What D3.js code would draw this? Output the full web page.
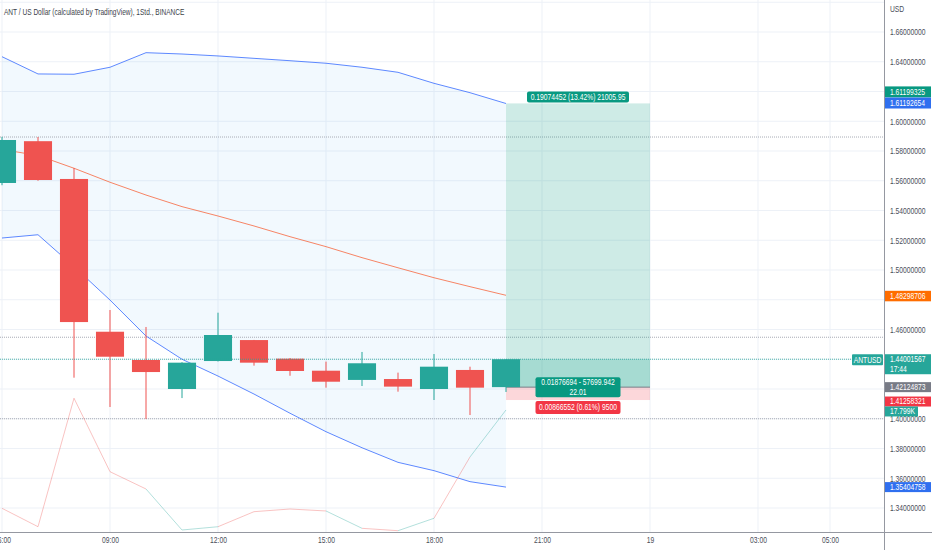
<!DOCTYPE html>
<html>
<head>
<meta charset="utf-8">
<script src="https://cdn.jsdelivr.net/npm/d3@7"></script>
<style>
  body { margin: 0; background: #fff; }
  svg { display: block; font-family: "Liberation Sans", Arial, sans-serif; }
</style>
</head>
<body>
<div id="chart"></div>
<script>
// hourly candles, ANT / USD
const times = ["2021-03-18 06:00", "2021-03-18 07:00", "2021-03-18 08:00", "2021-03-18 09:00",
  "2021-03-18 10:00", "2021-03-18 11:00", "2021-03-18 12:00", "2021-03-18 13:00",
  "2021-03-18 14:00", "2021-03-18 15:00", "2021-03-18 16:00", "2021-03-18 17:00",
  "2021-03-18 18:00", "2021-03-18 19:00", "2021-03-18 20:00"];
const opens  = [1.5585, 1.5866, 1.5612, 1.4585, 1.4395, 1.4200, 1.4388, 1.4529, 1.4404, 1.4323, 1.4261, 1.4267, 1.4200, 1.4328, 1.42124873];
const highs  = [1.5895, 1.5894, 1.5686, 1.4731, 1.4617, 1.4380, 1.4713, 1.4530, 1.4408, 1.4384, 1.4449, 1.4310, 1.4435, 1.4350, 1.44001567];
const lows   = [1.5570, 1.5600, 1.4276, 1.4079, 1.3998, 1.4139, 1.4385, 1.4357, 1.4289, 1.4209, 1.4220, 1.4182, 1.4126, 1.4025, 1.4180];
const closes = [1.5874, 1.5605, 1.4650, 1.4417, 1.4314, 1.4377, 1.4563, 1.4377, 1.4321, 1.4249, 1.4373, 1.4216, 1.4350, 1.4209, 1.44001567];

// bands
const upperBand  = [1.6434, 1.6318, 1.6316, 1.6363, 1.6461, 1.6452, 1.6439, 1.6423, 1.6407, 1.6390, 1.6363, 1.6329, 1.6255, 1.6192, 1.61192654];
const middleBand = [1.5810, 1.5770, 1.5684, 1.5590, 1.5504, 1.5426, 1.5363, 1.5296, 1.5224, 1.5157, 1.5083, 1.5015, 1.4948, 1.4888, 1.48298706];
const lowerBand  = [1.5215, 1.5237, 1.5023, 1.4798, 1.4556, 1.4400, 1.4287, 1.4166, 1.4037, 1.3913, 1.3805, 1.3707, 1.3651, 1.3577, 1.35404758];

// volume in thousands
const volumes = [3.80, 1.18, 19.47, 9.01, 6.55, 0.71, 1.18, 3.32, 3.70, 3.42, 0.95, 0.61, 2.38, 11.11, 17.799];

const priceTicks = [1.34, 1.36, 1.38, 1.40, 1.42, 1.44, 1.46, 1.48, 1.50, 1.52, 1.54, 1.56, 1.58, 1.60, 1.62, 1.64, 1.66];
const timeTicks = ["2021-03-18 06:00", "2021-03-18 09:00", "2021-03-18 12:00", "2021-03-18 15:00",
  "2021-03-18 18:00", "2021-03-18 21:00", "2021-03-19 00:00", "2021-03-19 03:00", "2021-03-19 05:00"];
const timeTickLabels = ["06:00", "09:00", "12:00", "15:00", "18:00", "21:00", "19", "03:00", "05:00"];

// drawn horizontal lines
const hLines = [1.5894, 1.4548, 1.40];

// long position tool
const posStart = "2021-03-18 20:00";
const posEnd = "2021-03-19 00:00";
const entryPrice = 1.42124873;
const targetPrice = 1.61199325;
const stopPrice = 1.41258321;
const targetText = "0.19074452 (13.42%) 21005.95";
const openText = ["0.01876694 - 57699.942", "22.01"];
const stopText = "0.00866552 (0.61%) 9500";

const titleText = "ANT / US Dollar (calculated by TradingView), 1Std., BINANCE";
const symbol = "ANTUSD";
const countdown = "17:44";

const W = 932, H = 550;
const plotW = 884, plotH = 532;
const up = "#26a69a", down = "#ef5350";
const sx = 0.75; // narrow glyphs

const parse = d3.timeParse("%Y-%m-%d %H:%M");
const bars = times.map((t, i) => ({
  t: parse(t), o: opens[i], h: highs[i], l: lows[i], c: closes[i],
  ub: upperBand[i], mb: middleBand[i], lb: lowerBand[i], v: volumes[i]
}));

const x = d3.scaleTime()
  .domain(d3.extent(timeTicks.map(parse)))
  .range([2, 830]);
const y = d3.scaleLinear().domain([1.34, 1.66]).range([508, 32]);
const yVol = d3.scaleLinear().domain([0, 20]).range([535, 394.5]);
const barW = (x(bars[1].t) - x(bars[0].t)) * 0.78;

const svg = d3.select("#chart").append("svg")
  .attr("width", W).attr("height", H);

svg.append("defs").append("clipPath").attr("id", "plot")
  .append("rect").attr("width", plotW).attr("height", plotH);

const plot = svg.append("g").attr("clip-path", "url(#plot)");

function txt(g, px, py, str, anchor, scale) {
  return g.append("text")
    .attr("transform", "translate(" + px + "," + py + ") scale(" + (scale || sx) + ",1)")
    .attr("text-anchor", anchor || "start")
    .attr("dominant-baseline", "central")
    .text(str);
}

// grid
plot.selectAll(".hgrid").data(priceTicks.concat([1.68])).enter().append("line")
  .attr("x1", 0).attr("x2", plotW)
  .attr("y1", d => y(d)).attr("y2", d => y(d))
  .attr("stroke", "#edf1f7");
plot.selectAll(".vgrid").data(timeTicks).enter().append("line")
  .attr("x1", d => x(parse(d))).attr("x2", d => x(parse(d)))
  .attr("y1", 0).attr("y2", plotH)
  .attr("stroke", "#edf1f7");

// band fill
plot.append("path").datum(bars)
  .attr("d", d3.area().x(d => x(d.t)).y0(d => y(d.lb)).y1(d => y(d.ub)))
  .attr("fill", "rgba(33,150,243,0.06)");

// drawn lines
plot.selectAll(".hline").data(hLines).enter().append("line")
  .attr("x1", 0).attr("x2", plotW)
  .attr("y1", d => y(d)).attr("y2", d => y(d))
  .attr("stroke", "#a9acb5").attr("stroke-dasharray", "1 1");

// position boxes
const px0 = x(parse(posStart)), px1 = x(parse(posEnd));
const lastClose = closes[closes.length - 1];
plot.append("rect")
  .attr("x", px0).attr("width", px1 - px0)
  .attr("y", y(targetPrice)).attr("height", y(entryPrice) - y(targetPrice))
  .attr("fill", "rgba(8,153,129,0.2)");
plot.append("rect")
  .attr("x", px0).attr("width", px1 - px0)
  .attr("y", y(lastClose)).attr("height", y(entryPrice) - y(lastClose))
  .attr("fill", "rgba(8,153,129,0.2)");
plot.append("rect")
  .attr("x", px0).attr("width", px1 - px0)
  .attr("y", y(entryPrice)).attr("height", y(stopPrice) - y(entryPrice))
  .attr("fill", "rgba(242,54,69,0.2)");
plot.append("line")
  .attr("x1", px0).attr("x2", px1)
  .attr("y1", y(entryPrice)).attr("y2", y(entryPrice))
  .attr("stroke", "#787b86");

// band lines
const lineOf = key => d3.line().x(d => x(d.t)).y(d => y(d[key]));
plot.append("path").datum(bars).attr("d", lineOf("ub"))
  .attr("fill", "none").attr("stroke", "#2962ff").attr("stroke-opacity", 0.75);
plot.append("path").datum(bars).attr("d", lineOf("lb"))
  .attr("fill", "none").attr("stroke", "#2962ff").attr("stroke-opacity", 0.75);
plot.append("path").datum(bars).attr("d", lineOf("mb"))
  .attr("fill", "none").attr("stroke", "#f7704a").attr("stroke-opacity", 0.85);

// volume line, each segment coloured by its closing bar
plot.selectAll(".vol").data(bars.slice(1)).enter().append("line")
  .attr("x1", (d, i) => x(bars[i].t)).attr("y1", (d, i) => yVol(bars[i].v))
  .attr("x2", d => x(d.t)).attr("y2", d => yVol(d.v))
  .attr("stroke", d => d.c >= d.o ? "rgba(38,166,154,0.35)" : "rgba(239,83,80,0.35)");

// candles
const candle = plot.selectAll(".candle").data(bars).enter().append("g");
candle.append("line")
  .attr("x1", d => x(d.t)).attr("x2", d => x(d.t))
  .attr("y1", d => y(d.h)).attr("y2", d => y(d.l))
  .attr("stroke", d => d.c >= d.o ? up : down);
candle.append("rect")
  .attr("x", d => x(d.t) - barW / 2).attr("width", barW)
  .attr("y", d => y(Math.max(d.o, d.c)))
  .attr("height", d => Math.max(1, Math.abs(y(d.o) - y(d.c))))
  .attr("fill", d => d.c >= d.o ? up : down);

// last price line
plot.append("line")
  .attr("x1", 0).attr("x2", plotW)
  .attr("y1", y(lastClose)).attr("y2", y(lastClose))
  .attr("stroke", up).attr("stroke-opacity", 0.8).attr("stroke-dasharray", "1 1");

// position labels
const lab = svg.append("g").attr("fill", "#fff").style("font-size", "9px");
const pmid = (px0 + px1) / 2;
function tag(cx, top, w, h, bg, lines) {
  lab.append("rect").attr("x", cx - w / 2).attr("y", top).attr("width", w).attr("height", h)
    .attr("rx", 2).attr("fill", bg);
  lines.forEach((s, i) => txt(lab, cx, top + (i + 0.5) * (h / lines.length), s, "middle"));
}
tag(pmid, y(targetPrice) - 12, 102, 11, "#089981", [targetText]);
tag(pmid, y(entryPrice) - 10, 85, 20, "#089981", openText);
tag(pmid, y(stopPrice) + 1, 85, 13, "#f23645", [stopText]);

// axes
svg.append("line").attr("x1", plotW + 0.5).attr("x2", plotW + 0.5).attr("y1", 0).attr("y2", H)
  .attr("stroke", "#9598a1");
svg.append("line").attr("x1", 0).attr("x2", W).attr("y1", plotH + 0.5).attr("y2", plotH + 0.5)
  .attr("stroke", "#9598a1");

// price scale tags (drawn after the tick texts)
const fmt = d3.format(".8f");
const last = bars[bars.length - 1];
const tags = [
  { top: y(targetPrice) - 17, h: 11, bg: "#089981", lines: [fmt(targetPrice)] },
  { top: y(last.ub) - 6, h: 11, bg: "#2f6fef", lines: [fmt(last.ub)] },
  { top: y(last.mb) - 4.5, h: 10.5, bg: "#ff6d00", lines: [fmt(last.mb)] },
  { top: y(lastClose) - 5, h: 20, bg: up, lines: [fmt(lastClose), countdown] },
  { top: y(entryPrice) - 5, h: 10, bg: "#787b86", lines: [fmt(entryPrice)] },
  { top: y(stopPrice) - 3.5, h: 10, bg: "#f23645", lines: [fmt(stopPrice)] },
  { top: yVol(last.v) - 3.5, h: 10, bg: up, lines: [d3.format(".3f")(last.v) + "K"], w: 33 },
  { top: y(last.lb) - 5, h: 10, bg: "#2f6fef", lines: [fmt(last.lb)] }
];
const covered = p => tags.some(t => y(p) >= t.top && y(p) <= t.top + t.h);

const yAxis = svg.append("g")
  .attr("transform", "translate(" + plotW + ",0)")
  .call(d3.axisRight(y).tickValues(priceTicks.filter(p => !covered(p)))
    .tickSize(0).tickFormat(fmt));
yAxis.select(".domain").remove();
yAxis.selectAll("text")
  .attr("x", null).attr("dy", null)
  .attr("dominant-baseline", "central")
  .attr("transform", "translate(6,0) scale(" + sx + ",1)")
  .attr("fill", "#4a4e59").style("font-size", "9px")
  .style("font-family", "Liberation Sans, Arial, sans-serif");

const xAxis = svg.append("g")
  .attr("transform", "translate(0," + plotH + ")")
  .call(d3.axisBottom(x).tickValues(timeTicks.map(parse)).tickSize(0).tickPadding(5)
    .tickFormat((d, i) => timeTickLabels[i]));
xAxis.select(".domain").remove();
xAxis.selectAll("text")
  .attr("transform", "scale(" + sx + ",1)")
  .attr("fill", "#4a4e59").style("font-size", "9px")
  .style("font-family", "Liberation Sans, Arial, sans-serif");

svg.append("g").attr("fill", "#4a4e59").style("font-size", "9px")
  .call(g => txt(g, plotW + 6, 9, "USD"));

const axLab = svg.append("g").attr("fill", "#fff").style("font-size", "9px");
tags.forEach(t => {
  axLab.append("rect").attr("x", plotW + 1).attr("y", t.top).attr("width", t.w || 46).attr("height", t.h)
    .attr("fill", t.bg);
  t.lines.forEach((s, i) => txt(axLab, plotW + 6, t.top + (i + 0.5) * (t.h / t.lines.length), s));
});

// symbol tag left of the scale
axLab.append("rect").attr("x", plotW - 32).attr("y", y(lastClose) - 5).attr("width", 31).attr("height", 11)
  .attr("rx", 1).attr("fill", up);
txt(axLab, plotW - 16.5, y(lastClose) + 0.5, symbol, "middle");

// title
svg.append("g").attr("fill", "#3c3f4a").style("font-size", "9px")
  .call(g => txt(g, 4, 12, titleText, "start", 0.73));
</script>
</body>
</html>
